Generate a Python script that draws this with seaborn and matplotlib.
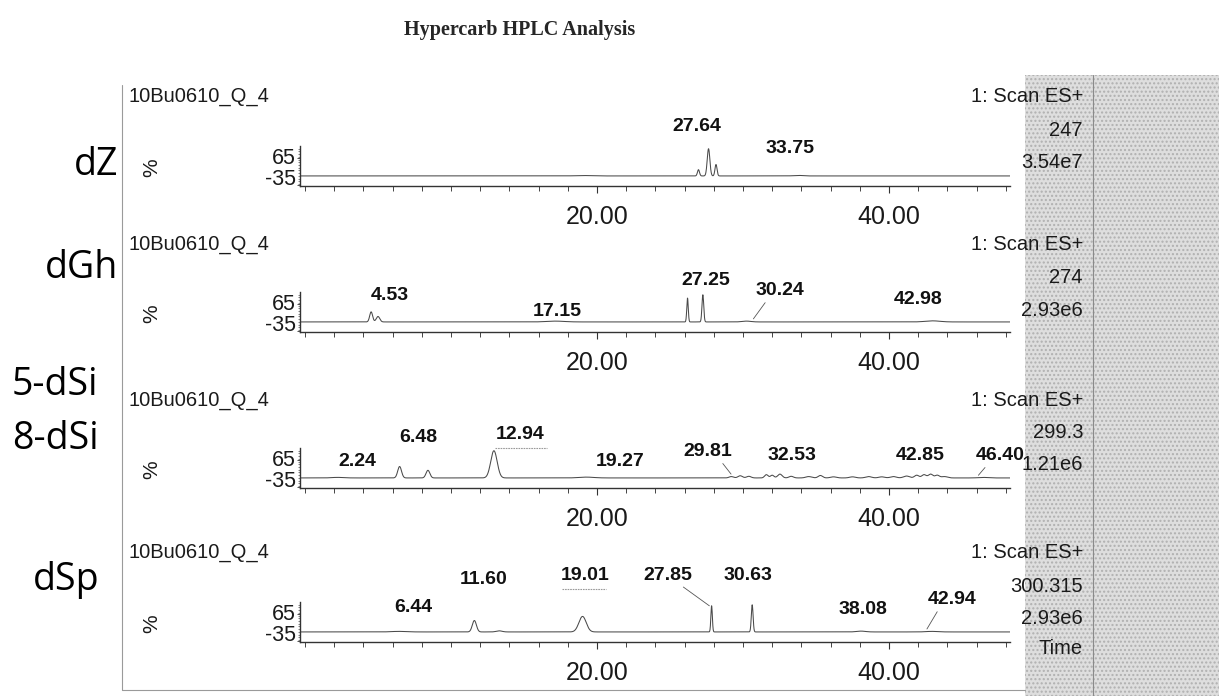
import numpy as np
import pandas as pd
import matplotlib
matplotlib.use("Agg")
import matplotlib.pyplot as plt
from matplotlib.patches import Rectangle
import seaborn as sns

# ---------------- data ----------------
compounds = ["dZ", "dGh", "5-dSi\n8-dSi", "dSp"]
sample_name = "10Bu0610_Q_4"
scan_mode = "1: Scan ES+"
mz_values = ["247", "274", "299.3", "300.315"]
intensities = ["3.54e7", "2.93e6", "1.21e6", "2.93e6"]

# peaks per trace: retention time (min), relative height (%), width (min)
dz_rt = [19.0, 26.95, 27.64, 28.15, 33.75]
dz_h = [1.5, 23, 100, 42, 2]
dz_w = [0.5, 0.07, 0.09, 0.07, 0.3]

dgh_rt = [4.53, 5.0, 17.15, 26.2, 27.25, 30.24, 42.98]
dgh_h = [37, 20, 3, 88, 100, 3, 4]
dgh_w = [0.1, 0.12, 0.6, 0.05, 0.06, 0.3, 0.5]

dsi_rt = [2.24, 6.48, 8.42, 12.94, 19.27, 29.2, 29.81, 30.4, 31.6, 32.0, 32.53,
          33.3, 34.5, 35.3, 36.2, 37.5, 38.6, 39.5, 40.3, 41.2, 41.9, 42.4,
          42.85, 43.3, 43.8, 46.4]
dsi_h = [2, 42, 28, 100, 3, 5, 8, 6, 12, 10, 14,
         6, 5, 9, 4, 4, 5, 4, 5, 7, 10, 12,
         14, 10, 5, 2]
dsi_w = [0.4, 0.13, 0.13, 0.22, 0.5, 0.15, 0.15, 0.15, 0.12, 0.12, 0.15,
         0.15, 0.2, 0.15, 0.2, 0.2, 0.2, 0.2, 0.2, 0.2, 0.15, 0.15,
         0.15, 0.15, 0.2, 0.3]

dsp_rt = [6.44, 11.60, 13.3, 19.01, 27.85, 30.63, 38.08, 42.94]
dsp_h = [2, 42, 4, 57, 96, 100, 3, 2]
dsp_w = [0.5, 0.14, 0.2, 0.25, 0.05, 0.06, 0.3, 0.4]

peak_rt = [dz_rt, dgh_rt, dsi_rt, dsp_rt]
peak_h = [dz_h, dgh_h, dsi_h, dsp_h]
peak_w = [dz_w, dgh_w, dsi_w, dsp_w]

# labelled retention times per trace
label_text = [["27.64", "33.75"],
              ["4.53", "17.15", "27.25", "30.24", "42.98"],
              ["2.24", "6.48", "12.94", "19.27", "29.81", "32.53", "42.85", "46.40"],
              ["6.44", "11.60", "19.01", "27.85", "30.63", "38.08", "42.94"]]

# ---------------- layout (pixels / label placement) ----------------
W, H = 1219, 696
X0_PX, PX_PER_MIN = 305, 14.6
XLIM = (-0.35, 48.3)
YLIM = (-37, 110)
axis_px = [186, 332, 488, 642]          # x-axis line (pixel row) per panel
title_px = [97, 245, 400, 553]
compound_px = [(118, 165, "right"), (118, 268, "right"), (12, 412, "left"), (66, 580, "center")]
label_xy = [[(26.85, 180), (33.22, 99)],
            [(5.82, 96), (17.26, 37), (27.47, 154), (32.53, 114), (41.99, 81)],
            [(3.56, 59), (7.74, 147), (14.73, 158), (21.58, 59), (27.6, 96),
             (33.36, 81), (42.12, 81), (47.6, 81)],
            [(7.4, 88), (12.26, 191), (19.18, 206), (24.86, 206), (30.34, 206),
             (38.22, 81), (44.3, 118)]]
# leader lines: (panel, label index, target x, target y)
leaders = [(1, 3, 30.6, 3), (2, 4, 29.3, 6), (2, 7, 46.0, 2), (3, 3, 27.85, 90), (3, 6, 42.5, 2)]
# faint bars printed under some labels: (panel, x from, x to, y)
label_bars = [(2, 13.0, 16.6, 110), (3, 17.6, 20.6, 156)]

sns.set_theme(style="white")
plt.rcParams["font.family"] = ["Liberation Sans", "DejaVu Sans"]

fig = plt.figure(figsize=(W / 100, H / 100), dpi=100)
fig.patch.set_facecolor("white")

def fx(px):
    return px / W

def fy(py):
    return 1 - py / H

# scanned grey strip on the right and frame
fig.patches.append(Rectangle((fx(1025), 0), fx(W) - fx(1025), fy(75), transform=fig.transFigure,
                             facecolor="#dedede", edgecolor="#b0b0b0", hatch="....", lw=0, zorder=0))
fig.lines.append(plt.Line2D([fx(1093), fx(1093)], [0, fy(75)], transform=fig.transFigure,
                            color="#8a8a8a", lw=0.8, zorder=1))
fig.lines.append(plt.Line2D([fx(122), fx(122), fx(1025)], [fy(85), fy(690), fy(690)],
                            transform=fig.transFigure, color="#9a9a9a", lw=0.8))

fig.text(fx(520), fy(30), "Hypercarb HPLC Analysis", ha="center", va="center",
         fontsize=14.5, fontweight="bold", family=["Liberation Serif", "DejaVu Serif"])

x = np.linspace(XLIM[0], XLIM[1], 4000)
left_px = X0_PX + XLIM[0] * PX_PER_MIN
width_px = (XLIM[1] - XLIM[0]) * PX_PER_MIN
height_px = 40

for i in range(4):
    ax = fig.add_axes([fx(left_px), fy(axis_px[i]), width_px / W, height_px / H])
    ax.set_facecolor("none")
    y = np.zeros_like(x)
    for rt, h, w in zip(peak_rt[i], peak_h[i], peak_w[i]):
        y += h * np.exp(-0.5 * ((x - rt) / w) ** 2)
    df = pd.DataFrame({"time": x, "pct": y})
    sns.lineplot(data=df, x="time", y="pct", ax=ax, color="#4a4a4a", lw=0.75, estimator=None)
    ax.set_xlim(*XLIM)
    ax.set_ylim(*YLIM)
    ax.set_xlabel("")
    ax.set_ylabel("")
    for s in ["top", "right"]:
        ax.spines[s].set_visible(False)
    for s in ["bottom", "left"]:
        ax.spines[s].set_color("#333333")
        ax.spines[s].set_linewidth(1.0)
    ax.set_xticks([20, 40])
    ax.set_xticklabels(["20.00", "40.00"])
    ax.set_xticks(np.arange(0, 49, 2), minor=True)
    ax.tick_params(axis="x", which="major", direction="out", length=5, width=0.8,
                   color="#333333", labelsize=18, pad=8.5, bottom=True, labelcolor="#1a1a1a")
    ax.tick_params(axis="x", which="minor", direction="out", length=3.5, width=0.7,
                   color="#444444", bottom=True)
    ax.set_yticks([65, -35])
    ax.set_yticklabels(["65", "-35"])
    ax.set_yticks(np.arange(-30, 110, 10), minor=True)
    ax.tick_params(axis="y", which="major", direction="out", length=2, width=0.6,
                   color="#333333", labelsize=15.5, pad=1, left=True, labelcolor="#1a1a1a")
    ax.tick_params(axis="y", which="minor", direction="out", length=1.5, width=0.5,
                   color="#555555", left=True)
    ylabs = ax.get_yticklabels()
    ylabs[0].set_va("center")
    ylabs[1].set_va("baseline")
    ax.grid(False)

    for txt, (lx, ly) in zip(label_text[i], label_xy[i]):
        ax.text(lx, ly, txt, ha="center", va="center", fontsize=14, fontweight="bold",
                color="#111111", clip_on=False)

    for (p, li, tx, ty) in leaders:
        if p == i:
            lx, ly = label_xy[i][li]
            sx = lx + (0.9 if tx > lx else -0.9)
            ax.annotate("", xy=(tx, ty), xytext=(sx, ly - 35),
                        arrowprops=dict(arrowstyle="-", lw=0.6, color="#555555"),
                        annotation_clip=False)
    for (p, xa, xb, yb) in label_bars:
        if p == i:
            ax.plot([xa, xb], [yb, yb], color="#9a9a9a", lw=0.8, ls=(0, (1.5, 0.8)), clip_on=False)

    # panel texts
    fig.text(fx(128), fy(title_px[i]), sample_name, ha="left", va="center", fontsize=14.5, color="#1a1a1a")
    fig.text(fx(1083), fy(title_px[i]), scan_mode, ha="right", va="center", fontsize=14.5, color="#1a1a1a")
    fig.text(fx(1083), fy(title_px[i] + 33), mz_values[i], ha="right", va="center", fontsize=14.5, color="#1a1a1a")
    fig.text(fx(1083), fy(title_px[i] + 65), intensities[i], ha="right", va="center", fontsize=14.5, color="#1a1a1a")
    fig.text(fx(152), fy(axis_px[i] - 18), "%", ha="center", va="center", rotation=90,
             fontsize=15, color="#1a1a1a")
    cx, cy, cha = compound_px[i]
    fig.text(fx(cx), fy(cy), compounds[i], ha=cha, va="center", fontsize=27,
             family=["Open Sans", "DejaVu Sans"], color="black", linespacing=1.55)

fig.text(fx(1083), fy(649), "Time", ha="right", va="center", fontsize=14.5, color="#1a1a1a", zorder=0)

fig.savefig("out.png", dpi=100, facecolor="white")
